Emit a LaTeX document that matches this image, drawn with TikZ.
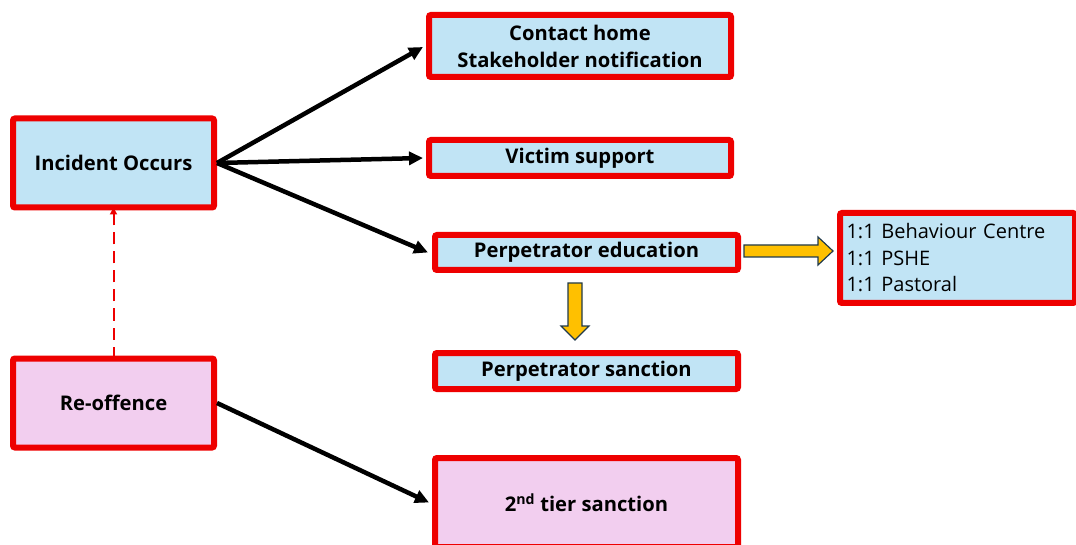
\documentclass[tikz,border=0pt]{standalone}
\usepackage{fontspec}
\setmainfont{Open Sans}[Ligatures=NoCommon]
\usetikzlibrary{arrows.meta,calc}
\definecolor{boxred}{HTML}{EE0000}
\definecolor{lblue}{HTML}{C1E4F5}
\definecolor{lpink}{HTML}{F2CEEF}
\definecolor{yel}{HTML}{FFC000}
\definecolor{yedge}{HTML}{203A4C}
\begin{document}
\begin{tikzpicture}[x=1pt,y=-1pt,
  box/.style={draw=boxred,line width=6pt,rounded corners=2pt,inner sep=0pt,align=center,
    font=\fontsize{20.2}{27}\selectfont\bfseries},
  bluebox/.style={box,fill=lblue},
  pinkbox/.style={box,fill=lpink},
  arr/.style={line width=4.5pt,-{Triangle[length=14pt,width=13pt]}},
  dasharr/.style={draw=boxred,line width=2pt,dash pattern=on 12pt off 7pt,-{Triangle[length=7pt,width=7pt]}},
  yarrow/.style={fill=yel,draw=yedge,line width=1.2pt,line join=miter}]
\useasboundingbox (0,0) rectangle (1076,545);
\node[bluebox,minimum width=201pt,minimum height=89pt] (inc) at (113.5,163) {Incident Occurs};
\node[bluebox,minimum width=302pt,minimum height=62pt] (con) at (580,46) {Contact home\\Stakeholder notification};
\node[bluebox,minimum width=302pt,minimum height=36pt] (vic) at (580,158) {Victim support};
\node[bluebox,minimum width=303pt,minimum height=35pt] (edu) at (586.5,252.5) {Perpetrator education};
\node[bluebox,minimum width=303pt,minimum height=36pt] (san) at (586.5,371) {Perpetrator sanction};
\node[bluebox,minimum width=235pt,minimum height=90pt,align=left,text width=222pt,
  font=\fontsize{20}{26.5}\selectfont] (one) at (957.5,258) {1:1 Behaviour Centre\\1:1 PSHE\\1:1 Pastoral};
\node[pinkbox,minimum width=201pt,minimum height=89pt] (reo) at (113.5,403) {Re-offence};
\node[pinkbox,minimum width=303pt,minimum height=89pt] (tier) at (586.5,502.5) {2\textsuperscript{nd} tier sanction};
\draw[arr] (inc.east) -- ([shift={(-3,1)}]con.west);
\draw[arr] (inc.east) -- ([shift={(-3,0)}]vic.west);
\draw[arr] (inc.east) -- ([shift={(-4,0)}]edu.west);
\draw[arr] (reo.east) -- ([shift={(-3,0)}]tier.west);
\draw[dasharr] ([yshift=-3pt]reo.north) -- ([yshift=3pt]inc.south);
\draw[yarrow] (744,245) -- (818,245) -- (818,237) -- (833,251) -- (818,265) -- (818,257) -- (744,257) -- cycle;
\draw[yarrow] (568,283) -- (582,283) -- (582,326) -- (589,326) -- (575,340) -- (561,326) -- (568,326) -- cycle;
\end{tikzpicture}
\end{document}
